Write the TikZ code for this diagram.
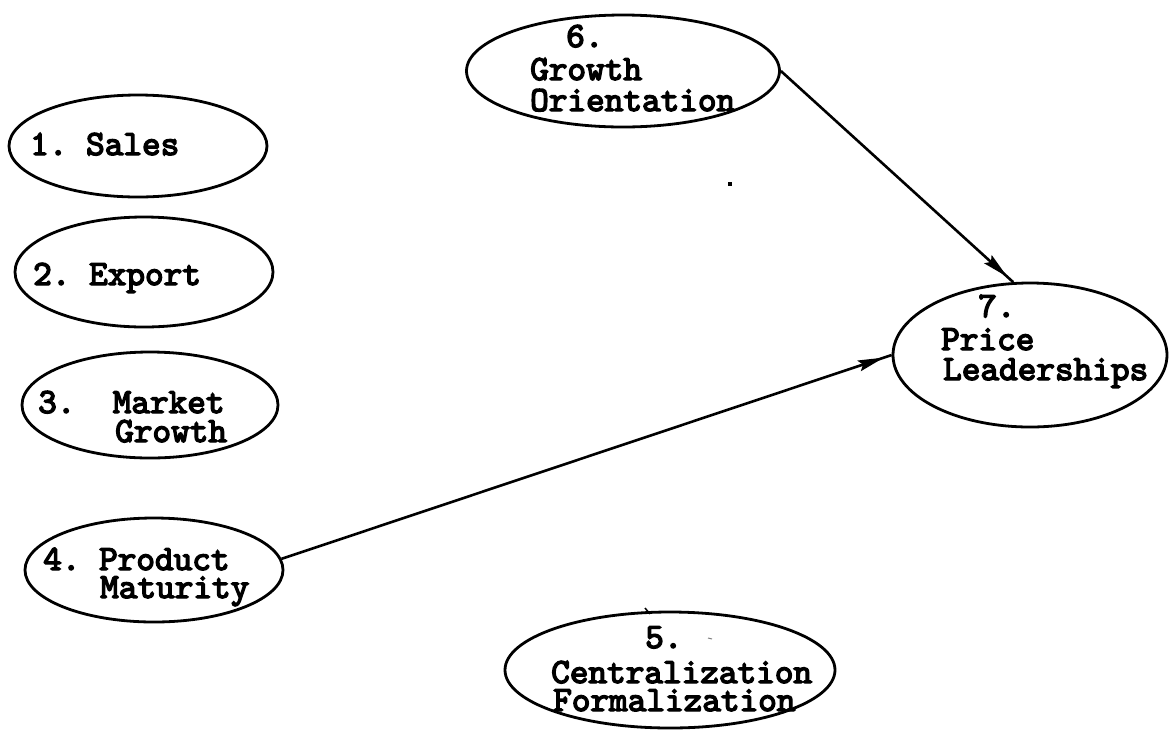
\documentclass[tikz,border=0pt]{standalone}
\usepackage{fontspec}
\newfontfamily\typer[FakeBold=4]{lmmono10-regular.otf}
\usetikzlibrary{shapes.geometric,arrows.meta,decorations.markings}
\begin{document}
\frenchspacing
\begin{tikzpicture}[x=1pt,y=-1pt,
  blob/.style={draw, ellipse, line width=2.8pt, inner sep=0pt},
  txt/.style={anchor=base west, inner sep=0pt,
    font=\fontsize{35.5}{35.5}\selectfont\typer},
  link/.style={line width=2.6pt, postaction={decorate},
    decoration={markings, mark=at position -8pt with
      {\arrow{Stealth[length=26pt,width=11pt,inset=4pt]}}}}]
\useasboundingbox (0,0) rectangle (1175,732);

% constructs
\node[blob, minimum width=258pt, minimum height=102pt] (n1) at (138,146) {};
\node[blob, minimum width=258pt, minimum height=110pt] (n2) at (144,272) {};
\node[blob, minimum width=256pt, minimum height=106pt] (n3) at (150,405) {};
\node[blob, minimum width=258pt, minimum height=104pt] (n4) at (154,570) {};
\node[blob, minimum width=330pt, minimum height=116pt] (n5) at (670,670) {};
\node[blob, minimum width=313pt, minimum height=112pt] (n6) at (623,71) {};
\node[blob, minimum width=274pt, minimum height=144pt] (n7) at (1030,355) {};

% labels
\node[txt] (t1) at (30,155) {1. Sales};
\node[txt] (t2) at (33,285) {2. Export};
\node[txt] (t3a) at (38,413) {3.\ \ Market};
\node[txt] (t3b) at (115,442) {Growth};
\node[txt] (t4a) at (43,570) {4. Product};
\node[txt] (t4b) at (100,598) {Maturity};
\node[txt] (t6a) at (566,47) {6.};
\node[txt] (t6b) at (530,80) {Growth};
\node[txt] (t6c) at (530,111) {Orientation};
\node[txt] (t7a) at (978,317) {7.};
\node[txt] (t7b) at (941,350) {Price};
\node[txt] (t7c) at (943,380) {Leaderships};
\node[txt] (t5a) at (645,648) {5.};
\node[txt] (t5b) at (551,683) {Centralization};
\node[txt] (t5c) at (553,711) {Formalization};

% paths
\draw[link] (n6.east) -- (n7.103);
\draw[link] (n4.5) -- (n7.west);

% stray pen marks
\fill (728,182) rectangle (732,186);
\draw[line width=1.5pt] (645,608) -- (650,614);
\draw[line width=1pt, gray] (708,638) -- (712,639);
\end{tikzpicture}
\end{document}
